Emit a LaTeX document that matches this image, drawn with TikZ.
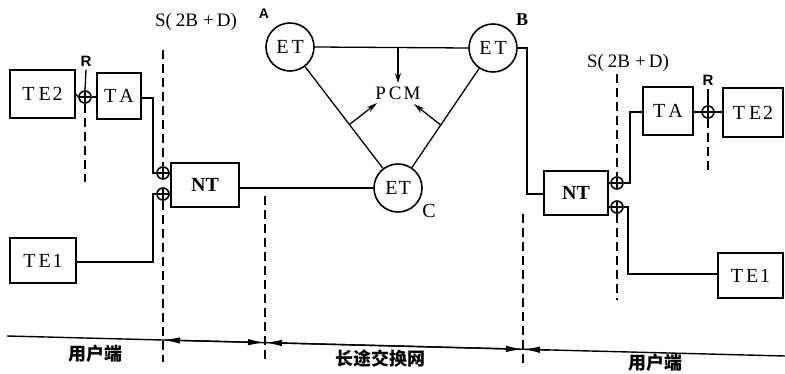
\documentclass[tikz,border=0pt]{standalone}
\usepackage{fontspec}
\setmainfont{Liberation Serif}
\newfontfamily\lsans{Liberation Sans}
\newfontfamily\cjk{Noto Sans CJK SC}
\usetikzlibrary{arrows.meta,calc}
\begin{document}
\begin{tikzpicture}[x=1pt,y=-1pt,
  blk/.style={draw,line width=1.8pt,inner sep=0pt,font=\fontsize{20}{20}\selectfont},
  et/.style={circle,draw,line width=1.6pt,minimum size=48pt,inner sep=0pt,font=\fontsize{20}{20}\selectfont},
  jn/.style={circle,draw,line width=1.6pt,minimum size=12pt,inner sep=0pt,
    path picture={\draw[line width=1.3pt] (path picture bounding box.north) -- (path picture bounding box.south)
      (path picture bounding box.west) -- (path picture bounding box.east);}},
  wire/.style={line width=1.3pt},
  dline/.style={line width=1.3pt,dash pattern=on 9pt off 5pt},
  dim/.style={line width=1.4pt},
  tip/.style={-{Latex[length=17pt,width=6.5pt]}},
  tips/.style={{Latex[length=17pt,width=6.5pt]}-{Latex[length=17pt,width=6.5pt]}},
  lbl/.style={font=\fontsize{19}{19}\selectfont},
  zh/.style={font=\cjk\bfseries\fontsize{18}{18}\selectfont}
]
\useasboundingbox (0,0) rectangle (785,374);

% ---------- left user side ----------
\node[blk,minimum width=65pt,minimum height=48pt] (TE2L) at (42.5,94) {T\hspace{4pt}E\hspace{2pt}2};
\node[blk,minimum width=44pt,minimum height=46pt] (TAL) at (119,96) {T\hspace{3pt}A};
\node[jn] (RL) at (85,97) {};
\node[font=\lsans\bfseries\fontsize{15}{15}\selectfont] (RLt) at (86,61) {R};
\node[blk,minimum width=68pt,minimum height=44pt] (NTL) at (205,185) {\bfseries NT};
\node[blk,minimum width=66pt,minimum height=45pt] (TE1L) at (43,260.5) {T\hspace{3pt}E\hspace{2pt}1};
\node[jn] (J1L) at (163,173) {};
\node[jn] (J2L) at (163,194) {};
\node[lbl] (SL) at (196,22) {S(\hspace{4pt}2B\hspace{5pt}+\hspace{3pt}D)};

\draw[wire] (TE2L.east) -- (RL.west);
\draw[wire] (RL.east) -- (TAL.west |- RL.east);
\draw[wire] (RLt.south) -- (RL.north);
\draw[dline] (RL.south) -- ++(0,78);
\draw[wire] (TAL.east |- 0,98) -| (153,173) -- (J1L.west);
\draw[wire] (TE1L.east |- 0,262) -| (153,194) -- (J2L.west);
\draw[wire] (J1L.east) -- (NTL.west |- J1L.east);
\draw[wire] (J2L.east) -- (NTL.west |- J2L.east);
\coordinate (sLtop) at (163,50);
\coordinate (sLbot) at (163,362);
\draw[dline] (sLtop) -- (J1L.north);
\draw[dline] (J2L.south) -- (sLbot);

% ---------- long distance network ----------
\node[et] (ETA) at (290,47) {E\hspace{3pt}T};
\node[et] (ETB) at (493,48) {E\hspace{3pt}T};
\node[et] (ETC) at (398,188) {E\hspace{1pt}T};
\node[font=\lsans\bfseries\fontsize{14}{14}\selectfont] (At) at (264,14) {A};
\node[font=\bfseries\fontsize{18}{18}\selectfont] (Bt) at (522,20) {B};
\node[font=\fontsize{20}{20}\selectfont] (Ct) at (429,211) {C};
\node[lbl,font=\fontsize{19}{19}\selectfont] (PCM) at (398,93) {P\hspace{3pt}C\hspace{2pt}M};

\draw[wire] (ETA.east) -- (ETB.west);
\coordinate (abm) at (398,47);
\draw[wire,-{Stealth[length=10pt,width=6pt]}] (abm) -- (PCM.north);
\draw[wire] (ETA) -- (ETC);
\draw[wire] (ETB) -- (ETC);
\coordinate (acm) at ($(ETA)!0.55!(ETC)$);
\coordinate (bcm) at ($(ETB)!0.55!(ETC)$);
\draw[wire,-{Stealth[length=11pt,width=6pt]}] (acm) -- (377,103);
\draw[wire,-{Stealth[length=11pt,width=6pt]}] (bcm) -- (414,104);
\draw[wire] (ETC.west) -- (ETC.west -| NTL.east);

% ---------- right user side ----------
\node[blk,minimum width=64pt,minimum height=44pt] (NTR) at (576,193) {\bfseries NT};
\node[blk,minimum width=50pt,minimum height=48pt] (TAR) at (668,111) {T\hspace{3pt}A};
\node[blk,minimum width=60pt,minimum height=49pt] (TE2R) at (753,112.5) {T\hspace{4pt}E\hspace{2pt}2};
\node[blk,minimum width=65pt,minimum height=45pt] (TE1R) at (750.5,275.5) {T\hspace{3pt}E\hspace{2pt}1};
\node[jn] (RR) at (708,112) {};
\node[font=\lsans\bfseries\fontsize{15}{15}\selectfont] (RRt) at (708,80) {R};
\node[jn] (J1R) at (617,183) {};
\node[jn] (J2R) at (617,207) {};
\node[lbl] (SR) at (628,63) {S(\hspace{4pt}2B\hspace{5pt}+\hspace{3pt}D)};

\draw[wire] (ETB.east) -| (527,194) -- (NTR.west |- 0,194);
\draw[wire] (TAR.east |- RR.west) -- (RR.west);
\draw[wire] (RR.east) -- (TE2R.west |- RR.east);
\draw[wire] (RRt.south) -- (RR.north);
\draw[dline] (RR.south) -- (708,172);
\draw[wire] (TAR.west |- 0,112) -| (630,183) -- (J1R.east);
\draw[wire] (TE1R.west |- 0,274) -| (628,207) -- (J2R.east);
\draw[wire] (J1R.west) -- (NTR.east |- J1R.west);
\draw[wire] (J2R.west) -- (NTR.east |- J2R.west);
\draw[dline] (617,74) -- (J1R.north);
\draw[dline] (J2R.south) -- (617,300);

% ---------- boundaries and bottom ----------
\coordinate (d2t) at (265,196);
\coordinate (d2b) at (265,362);
\coordinate (d3t) at (523,214);
\coordinate (d3b) at (523,364);
\draw[dline] (d2t) -- (d2b);
\draw[dline] (d3t) -- (d3b);

\coordinate (b0) at (7,336);
\coordinate (b1) at (163,340);
\coordinate (b2) at (265,342.6);
\coordinate (b3) at (523,349.3);
\coordinate (b4) at (785,356);
\coordinate (b5) at (550,350);
\draw[dim] (b0) -- (b4);
\draw[dim,tips] (b1) -- (b2);
\draw[dim,tips] (b2) -- (b3);
\draw[dim,tip] (b5) -- (b3);

\node[zh] (u1) at (95,354) {用户端};
\node[zh] (u2) at (380,359) {长途交换网};
\node[zh] (u3) at (655,363) {用户端};
\end{tikzpicture}
\end{document}
